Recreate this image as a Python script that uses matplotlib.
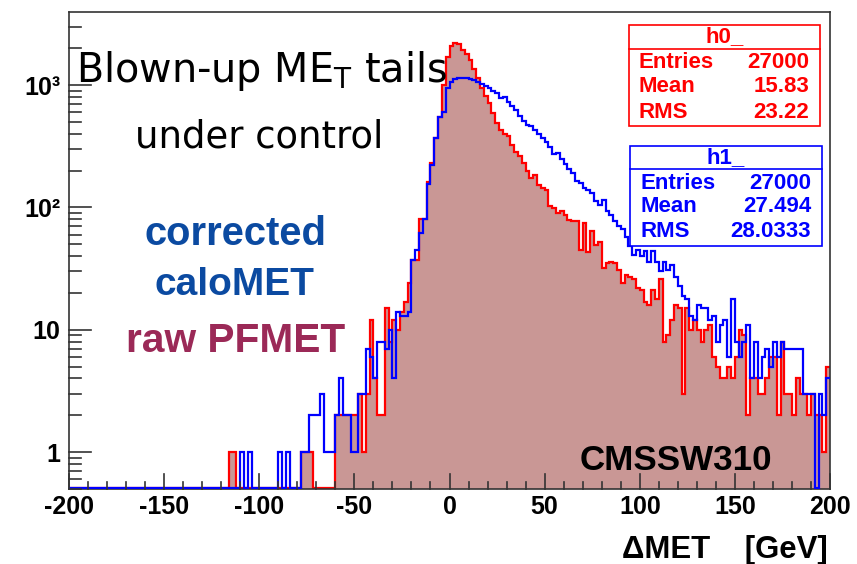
import matplotlib.pyplot as plt
import numpy as np
from matplotlib.ticker import FixedLocator, MultipleLocator, LogLocator, NullFormatter
from matplotlib.patches import Rectangle
from matplotlib.lines import Line2D
from matplotlib.transforms import blended_transform_factory

plt.rcParams['font.family'] = 'Liberation Sans'
plt.rcParams['font.weight'] = 'bold'
plt.rcParams['axes.unicode_minus'] = False

# bin edges: 200 bins of 2 GeV from -200 to 200
edges = np.linspace(-200, 200, 201)

# h0_ : raw PFMET (red, filled), one row = 20 GeV
h0 = np.array([
    0, 0, 0, 0, 0, 0, 0, 0, 0, 0,                              # -200..-180
    0, 0, 0, 0, 0, 0, 0, 0, 0, 0,                              # -180..-160
    0, 0, 0, 0, 0, 0, 0, 0, 0, 0,                              # -160..-140
    0, 0, 0, 0, 0, 0, 0, 0, 0, 0,                              # -140..-120
    0, 0, 1, 1, 0, 0, 0, 0, 0, 0,                              # -120..-100
    0, 0, 0, 0, 0, 0, 0, 0, 0, 0,                              # -100..-80
    0, 1, 1, 1, 0, 0, 0, 0, 0, 0,                              # -80..-60
    2, 2, 2, 2, 2, 2, 3, 1, 3, 12,                             # -60..-40
    4, 2, 2, 15, 8, 12, 10, 14, 17, 24,                        # -40..-20
    37, 37, 80, 80, 160, 230, 370, 550, 1000, 1700,            # -20..0
    2100, 2200, 2150, 1950, 1800, 1600, 1350, 1150, 950, 820,  # 0..20
    710, 590, 490, 430, 400, 380, 326, 286, 261, 230,          # 20..40
    197, 174, 185, 153, 144, 140, 102, 99, 90, 93,             # 40..60
    87, 79, 78, 77, 45, 75, 43, 64, 49, 52,                    # 60..80
    32, 35, 36, 35, 31, 24, 28, 27, 26, 22,                    # 80..100
    21, 17, 16, 21, 18, 26, 8, 9, 12, 16,                      # 100..120
    15, 3, 15, 10, 12, 10, 8, 10, 11, 6,                       # 120..140
    5, 4, 4, 5, 4, 6, 10, 9, 2, 4,                             # 140..160
    4, 3, 3, 4, 6, 6, 2, 8, 3, 3,                              # 160..180
    2, 4, 3, 3, 2, 3, 2, 2, 1, 5,                              # 180..200
])

# h1_ : corrected caloMET (blue outline)
h1 = np.array([
    0, 0, 0, 0, 0, 0, 0, 0, 0, 0,                              # -200..-180
    0, 0, 0, 0, 0, 0, 0, 0, 0, 0,                              # -180..-160
    0, 0, 0, 0, 0, 0, 0, 0, 0, 0,                              # -160..-140
    0, 0, 0, 0, 0, 0, 0, 0, 0, 0,                              # -140..-120
    0, 0, 0, 0, 0, 1, 0, 1, 0, 0,                              # -120..-100
    0, 0, 0, 0, 0, 1, 0, 1, 0, 0,                              # -100..-80
    0, 1, 1, 2, 2, 2, 3, 1, 1, 1,                              # -80..-60
    2, 4, 2, 2, 1, 1, 3, 3, 7, 6,                              # -60..-40
    4, 8, 8, 7, 10, 4, 14, 13, 13, 14,                         # -40..-20
    37, 45, 62, 80, 154, 220, 369, 552, 600, 950,              # -20..0
    1050, 1120, 1140, 1140, 1140, 1120, 1090, 1060, 1020, 990, # 0..20
    950, 900, 860, 790, 800, 720, 680, 620, 560, 510,          # 20..40
    470, 460, 430, 400, 370, 340, 310, 275, 280, 250,          # 40..60
    225, 205, 190, 165, 158, 145, 140, 131, 112, 104,          # 60..80
    116, 94, 86, 78, 70, 66, 57, 48, 41, 45,                   # 80..100
    40, 44, 36, 44, 36, 30, 36, 31, 34, 27,                    # 100..120
    23, 19, 18, 13, 12, 16, 15, 15, 12, 13,                    # 120..140
    8, 11, 12, 6, 18, 8, 6, 8, 11, 4,                          # 140..160
    8, 4, 6, 7, 5, 8, 6, 8, 7, 7,                              # 160..180
    7, 7, 7, 3, 3, 3, 0, 3, 2, 4,                              # 180..200
])

stats_h0 = [('Entries', '27000'), ('Mean', '15.83'), ('RMS', '23.22')]
stats_h1 = [('Entries', '27000'), ('Mean', '27.494'), ('RMS', '28.0333')]

xticks = [-200, -150, -100, -50, 0, 50, 100, 150, 200]
xtick_labels = ['-200', '-150', '-100', '-50', '0', '50', '100', '150', '200']
yticks = [1, 10, 100, 1000]
ytick_labels = ['1', '10', '10²', '10³']

W, H = 857, 564
fig = plt.figure(figsize=(W / 100, H / 100), dpi=100)
ax = fig.add_axes([69 / W, 1 - 489 / H, (830 - 69) / W, (489 - 12) / H])
ax.set_yscale('log')
ymin, ymax = 0.5, 3950

# empty bins are drawn along the bottom of the frame, like ROOT does
r = np.where(h0 > 0, h0, 0.51)
b = np.where(h1 > 0, h1, 0.51)
ax.stairs(r, edges, baseline=0.01, fill=True, color='#c99795', lw=0, zorder=1)
ax.stairs(r, edges, baseline=None, color='#ff0000', lw=1.6, zorder=2)
ax.stairs(b, edges, baseline=None, color='#0000ff', lw=1.6, zorder=3)

ax.set_xlim(-200, 200)
ax.set_ylim(ymin, ymax)

ax.xaxis.set_major_locator(FixedLocator(xticks))
ax.set_xticklabels(xtick_labels)
ax.xaxis.set_minor_locator(MultipleLocator(10))
ax.yaxis.set_major_locator(FixedLocator(yticks))
ax.set_yticklabels(ytick_labels)
ax.yaxis.set_minor_locator(LogLocator(base=10, subs=np.arange(2, 10)))
ax.yaxis.set_minor_formatter(NullFormatter())

ax.tick_params(axis='both', which='both', direction='in', length=0)
ax.tick_params(axis='x', which='major', labelsize=18, pad=4)
ax.tick_params(axis='y', which='major', labelsize=18, pad=6)
for sp in ax.spines.values():
    sp.set_color('#333333')
    sp.set_linewidth(1.2)

# ROOT-style inner tick marks, drawn at the locator positions
ax_h, ax_w = 489 - 12, 830 - 69
tx = blended_transform_factory(ax.transData, ax.transAxes)
ty = blended_transform_factory(ax.transAxes, ax.transData)
for locs, ln in [(ax.xaxis.get_majorticklocs(), 15), (ax.xaxis.get_minorticklocs(), 7)]:
    for v in locs:
        if -200 <= v <= 200:
            ax.plot([v, v], [0, ln / ax_h], transform=tx, color='#333333',
                    lw=1.2, clip_on=False, zorder=4)
for locs, ln in [(ax.yaxis.get_majorticklocs(), 22), (ax.yaxis.get_minorticklocs(), 12)]:
    for v in locs:
        if ymin <= v <= ymax:
            ax.plot([0, ln / ax_w], [v, v], transform=ty, color='#333333',
                    lw=1.2, clip_on=False, zorder=4)


def fx(x):
    return x / W


def fy(y):
    return 1 - y / H


# ---------- stat boxes ----------
def stat_box(x0, y0, x1, y1, ysep, color, title, rows, row_y):
    fig.add_artist(Rectangle((fx(x0), fy(y1)), (x1 - x0) / W, (y1 - y0) / H,
                             transform=fig.transFigure, fc='white', ec=color,
                             lw=1.2, zorder=5))
    fig.add_artist(Line2D([fx(x0), fx(x1)], [fy(ysep), fy(ysep)],
                          transform=fig.transFigure, color=color, lw=1.2, zorder=6))
    fig.text(fx((x0 + x1) / 2), fy((y0 + ysep) / 2), title, color=color,
             fontsize=16, ha='center', va='center', zorder=7)
    for (lab, val), yy in zip(rows, row_y):
        fig.text(fx(x0 + 10), fy(yy), lab, color=color, fontsize=16,
                 ha='left', va='center', zorder=7)
        fig.text(fx(x1 - 11), fy(yy), val, color=color, fontsize=16,
                 ha='right', va='center', zorder=7)


stat_box(629, 25, 820, 126, 49, '#ff0000', 'h0_', stats_h0, [63, 87, 112])
stat_box(630, 146, 822, 246, 169, '#0000ff', 'h1_', stats_h1, [183, 207, 232])

# ---------- annotations ----------
renderer = fig.canvas.get_renderer()


def fit_text(x0, x1, base, s, ha='left', **kw):
    xa = x0 if ha == 'left' else x1
    t = fig.text(fx(xa), fy(base), s, fontsize=30, ha=ha, va='baseline',
                 zorder=8, **kw)
    w = t.get_window_extent(renderer).width
    t.set_fontsize(30 * (x1 - x0) / w)
    return t


fit_text(76, 447, 82, 'Blown-up ME$_{\\mathregular{T}}$ tails',
         family='DejaVu Sans', weight='normal', color='black')
fit_text(135, 383, 148, 'under control', family='DejaVu Sans',
         weight='normal', color='black')
fit_text(145, 327, 245, 'corrected', weight='bold', color='#0b4aa1')
fit_text(155, 315, 295, 'caloMET', weight='bold', color='#0b4aa1')
fit_text(126, 345, 352, 'raw PFMET', weight='bold', color='#9b2957')

fit_text(580, 772, 470, 'CMSSW310', color='black')
fit_text(622, 828, 558, 'ΔMET    [GeV]', ha='right', color='black')

fig.savefig('out.png', dpi=100)
